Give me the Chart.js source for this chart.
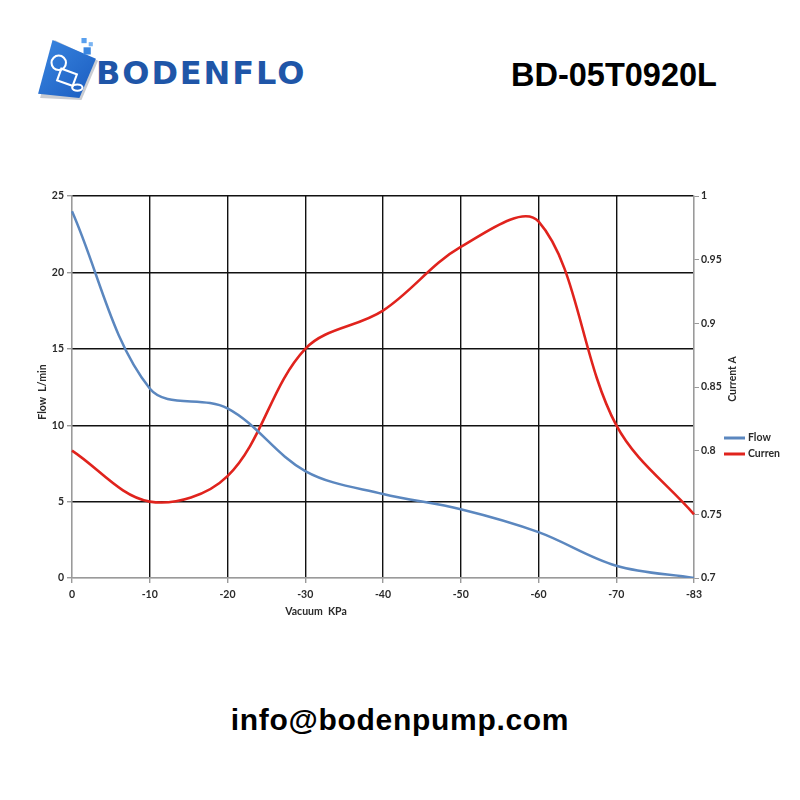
<!DOCTYPE html>
<html>
<head>
<meta charset="utf-8">
<script src="https://cdn.jsdelivr.net/npm/chart.js@4"></script>
<style>
  html, body { margin: 0; padding: 0; background: #fff; }
  body { width: 800px; height: 800px; position: relative; overflow: hidden; }
  #logoIcon { position: absolute; left: 36px; top: 38px; width: 62px; height: 62px; }
  #logoText { position: absolute; left: 96px; top: 53px; font-family: "DejaVu Sans", sans-serif; font-weight: bold; font-size: 32px; line-height: 40px; letter-spacing: 1.9px; color: #1f56a8; }
  #model { position: absolute; left: 511px; top: 59px; font-family: "Liberation Sans", Arial, sans-serif; font-weight: bold; font-size: 32.5px; line-height: 32px; color: #000; }
  #email { position: absolute; left: 0; width: 800px; top: 705px; text-align: center; font-family: "Liberation Sans", Arial, sans-serif; font-weight: bold; font-size: 30px; line-height: 30px; letter-spacing: 0.7px; color: #000; }
  #wrap { position: absolute; left: 0; top: 150px; width: 800px; height: 500px; }
</style>
</head>
<body>
<svg id="logoIcon" viewBox="0 0 60 60">
  <defs>
    <linearGradient id="g1" x1="0" y1="0" x2="1" y2="1">
      <stop offset="0" stop-color="#3a86e0"/>
      <stop offset="1" stop-color="#1a5cc0"/>
    </linearGradient>
  </defs>
  <polygon points="4,58 44,60 60,22 18,2" fill="#c9ccd2"/>
  <polygon points="2,54 42,58 58,20 16,2" fill="url(#g1)"/>
  <rect x="44" y="0" width="5" height="5" fill="#5aa0ee"/>
  <rect x="51" y="4" width="4" height="4" fill="#7ab4f2"/>
  <rect x="46" y="9" width="7" height="7" fill="#3a86e0"/>
  <circle cx="22" cy="24" r="7" fill="none" stroke="#fff" stroke-width="2"/>
  <rect x="22" y="32" width="16" height="12" fill="none" stroke="#fff" stroke-width="2" transform="rotate(20 30 38)"/>
  <ellipse cx="40" cy="48" rx="5" ry="3" fill="none" stroke="#fff" stroke-width="2"/>
</svg>
<div id="logoText">BODENFLO</div>
<div id="model">BD-05T0920L</div>
<div id="email">info@bodenpump.com</div>
<div id="wrap"><canvas id="c" width="800" height="500"></canvas></div>
<script>
const vacuumLabels = ['0', '-10', '-20', '-30', '-40', '-50', '-60', '-70', '-83'];
const flowValues = [24, 12.4, 11.1, 7.0, 5.5, 4.5, 3.0, 0.8, 0];
const currentValues = [0.80, 0.76, 0.78, 0.88, 0.91, 0.96, 0.98, 0.82, 0.75];
const flowLabel = 'Flow';
const currentLabel = 'Curren';
const xTitle = 'Vacuum  KPa';
const yTitle = 'Flow  L/min';
const y1Title = 'Current A';

Chart.defaults.font.family = 'Lato, "Open Sans", sans-serif';
Chart.defaults.font.weight = 'bold';
Chart.defaults.font.size = 10.5;
Chart.defaults.color = '#2a2a2a';

const GRID = '#111';
const AXIS = '#9a9a9a';

const annot = {
  id: 'annot',
  afterDraw(chart) {
    const ctx = chart.ctx;
    ctx.save();
    ctx.fillStyle = '#2a2a2a';
    ctx.font = 'bold 10.5px Lato, sans-serif';
    ctx.textAlign = 'center';
    ctx.textBaseline = 'middle';
    ctx.fillText(xTitle, 316, 461.5);
    ctx.save();
    ctx.translate(42.5, 242);
    ctx.rotate(-Math.PI / 2);
    ctx.fillText(yTitle, 0, 0);
    ctx.restore();
    ctx.save();
    ctx.translate(733, 229);
    ctx.rotate(-Math.PI / 2);
    ctx.fillText(y1Title, 0, 0);
    ctx.restore();
    ctx.textAlign = 'left';
    chart.data.datasets.forEach((ds, i) => {
      const y = 288 + i * 16;
      ctx.strokeStyle = ds.borderColor;
      ctx.lineWidth = 3;
      ctx.beginPath();
      ctx.moveTo(724, y);
      ctx.lineTo(745, y);
      ctx.stroke();
      ctx.fillStyle = '#2a2a2a';
      ctx.fillText(ds.label, 748, y);
    });
    ctx.restore();
  }
};

new Chart(document.getElementById('c'), {
  type: 'line',
  data: {
    labels: vacuumLabels,
    datasets: [
      { label: flowLabel, data: flowValues, yAxisID: 'y', borderColor: '#5b87bf', borderWidth: 2.5, pointRadius: 0, tension: 0.35, fill: false },
      { label: currentLabel, data: currentValues, yAxisID: 'y1', borderColor: '#e0231d', borderWidth: 2.6, pointRadius: 0, tension: 0.35, fill: false }
    ]
  },
  options: {
    responsive: false,
    animation: false,
    layout: { padding: { top: 46, left: 0, right: 0, bottom: 0 } },
    plugins: { legend: { display: false }, tooltip: { enabled: false } },
    scales: {
      x: {
        type: 'category',
        offset: false,
        afterFit: s => { s.height = 72; },
        grid: {
          color: c => (c.index === 0 || c.index === vacuumLabels.length - 1) ? AXIS : GRID,
          lineWidth: 1.4,
          tickLength: 5,
          tickColor: AXIS
        },
        border: { display: true, color: AXIS, width: 1.3 },
        ticks: { padding: 5, maxRotation: 0, autoSkip: false }
      },
      y: {
        position: 'left',
        min: 0, max: 25,
        afterFit: s => { s.width = 72; },
        grid: {
          color: c => c.tick && c.tick.value === 0 ? AXIS : GRID,
          lineWidth: 1.4,
          tickLength: 5,
          tickColor: AXIS
        },
        border: { display: true, color: AXIS, width: 1.3 },
        ticks: { stepSize: 5, padding: 3 }
      },
      y1: {
        position: 'right',
        min: 0.7, max: 1,
        afterFit: s => { s.width = 106; },
        grid: { drawOnChartArea: false, tickLength: 5, tickColor: AXIS, color: AXIS },
        border: { display: true, color: AXIS, width: 1.3 },
        ticks: { stepSize: 0.05, padding: 2, callback: v => String(Number(v.toFixed(2))) }
      }
    }
  },
  plugins: [annot]
});
</script>
</body>
</html>
